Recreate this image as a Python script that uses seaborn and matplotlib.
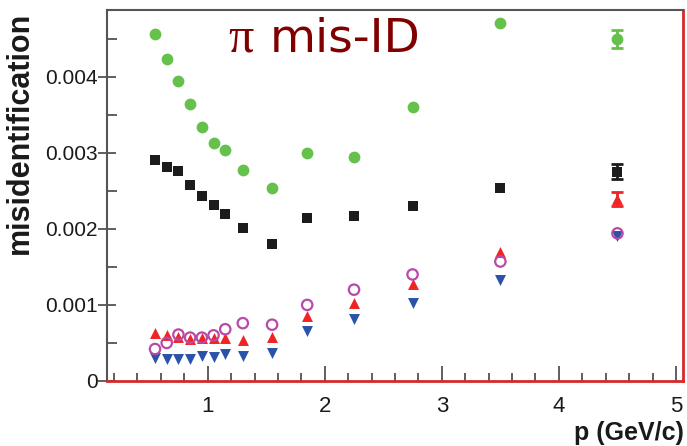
import numpy as np
import pandas as pd
import matplotlib
matplotlib.use("Agg")
import matplotlib.pyplot as plt
import seaborn as sns
from matplotlib.ticker import MultipleLocator

# ---- data ----
p = [0.55, 0.65, 0.75, 0.85, 0.95, 1.05, 1.15, 1.3, 1.55, 1.85, 2.25, 2.75, 3.5, 4.5]
green = [0.00456, 0.00423, 0.00394, 0.00364, 0.00334, 0.00313, 0.00304, 0.00277,
         0.00253, 0.00299, 0.00294, 0.00360, 0.00470, 0.00449]
black = [0.00291, 0.00281, 0.00276, 0.00258, 0.00243, 0.00231, 0.00220, 0.00201,
         0.00180, 0.00214, 0.00217, 0.00230, 0.00253, 0.00275]
red = [0.00063, 0.00060, 0.00058, 0.00055, 0.00056, 0.00057, 0.00056, 0.00054,
       0.00058, 0.00086, 0.00102, 0.00127, 0.00170, 0.00239]
magenta = [0.00042, 0.00050, 0.00061, 0.00057, 0.00057, 0.00060, 0.00068, 0.00076,
           0.00074, 0.00100, 0.00120, 0.00140, 0.00157, 0.00194]
blue = [0.00030, 0.00029, 0.00029, 0.00029, 0.00033, 0.00032, 0.00035, 0.00033,
        0.00037, 0.00066, 0.00081, 0.00103, 0.00133, 0.00191]
green_err = [0, 0, 0, 0, 0, 0, 0, 0, 0, 0, 0, 0, 0, 0.00012]
black_err = [0, 0, 0, 0, 0, 0, 0, 0, 0, 0, 0, 0, 0, 0.00010]
red_err = [0, 0, 0, 0, 0, 0, 0, 0, 0, 0, 0, 0, 0, 0.00009]

title_sym = "\u03c0"
title_txt = "mis-ID"
xlabel = "p (GeV/c)"
ylabel = "misidentification"
xtick_labels = ["1", "2", "3", "4", "5"]
ytick_labels = ["0", "0.001", "0.002", "0.003", "0.004"]

sns.set_style("white")
plt.rcParams['font.family'] = ['Liberation Sans', 'DejaVu Sans']

W, H = 687, 446
fig = plt.figure(figsize=(W/100, H/100), dpi=100)
ax = fig.add_axes([107/W, 1-381/H, (683-107)/W, (381-10)/H])

series = [
    ("green", green, green_err, "#66c04c", "o", 72, True),
    ("black", black, black_err, "#1c1c1c", "s", 48, True),
    ("red", red, red_err, "#f02424", "^", 62, True),
    ("blue", blue, None, "#2a52a8", "v", 62, True),
    ("magenta", magenta, None, "#b84aa8", "o", 56, False),
]

for name, vals, err, col, mk, sz, filled in series:
    df = pd.DataFrame({"p": p, "y": vals})
    if err is not None:
        e = np.array(err)
        m = e > 0
        ax.errorbar(np.array(p)[m], np.array(vals)[m], yerr=e[m], fmt="none",
                    ecolor=col, elinewidth=2, capsize=4, capthick=2, zorder=2)
    if filled:
        sns.scatterplot(data=df, x="p", y="y", ax=ax, marker=mk, s=sz,
                        color=col, edgecolor=col, linewidth=0, zorder=3, legend=False)
    else:
        sns.scatterplot(data=df, x="p", y="y", ax=ax, marker=mk, s=sz,
                        facecolors="none", edgecolor=col, linewidth=1.6, zorder=4, legend=False)

ax.set_xlim(0.14, 5.06)
ax.set_ylim(0, 0.004875)

ax.xaxis.set_minor_locator(MultipleLocator(0.2))
ax.yaxis.set_minor_locator(MultipleLocator(0.0005))
ax.set_yticks([0, 0.001, 0.002, 0.003, 0.004])
ax.set_yticklabels(ytick_labels)
ax.set_xticks([1, 2, 3, 4, 5])
ax.set_xticklabels(xtick_labels)

ax.tick_params(axis="y", which="major", direction="inout", length=13, width=1.2,
               color="#444444", labelsize=15, pad=0, labelcolor="#1a1a1a")
ax.tick_params(axis="y", which="minor", direction="in", length=7, width=1.2, color="#444444")
ax.tick_params(axis="x", which="major", direction="in", length=11, width=1.2,
               color="#444444", labelsize=16, pad=11, labelcolor="#1a1a1a")
ax.tick_params(axis="x", which="minor", direction="in", length=6, width=1.2, color="#444444")
ax.tick_params(axis="both", which="both", left=True, bottom=True)

for s in ["left", "top"]:
    ax.spines[s].set_color("#555555")
    ax.spines[s].set_linewidth(1.5)
for s in ["bottom", "right"]:
    ax.spines[s].set_color("#d42a2a")
    ax.spines[s].set_linewidth(2.0)

ax.set_xlabel("")
ax.set_ylabel("")
fig.text(684/W, 1/H, xlabel, ha="right", va="bottom", fontsize=18,
         fontweight="bold", color="#1a1a1a")
fig.text(20/W, 1-133/H, ylabel, ha="center", va="center", rotation=90,
         fontsize=22, fontweight="bold", color="#1a1a1a")
fig.text(228/W, 1-52/H, title_sym, ha="left", va="baseline",
         fontsize=36, color="#800000", fontfamily="Liberation Serif")
fig.text(270/W, 1-52/H, title_txt, ha="left", va="baseline",
         fontsize=34, color="#800000", fontfamily="DejaVu Sans")

fig.savefig("out.png", dpi=100)
